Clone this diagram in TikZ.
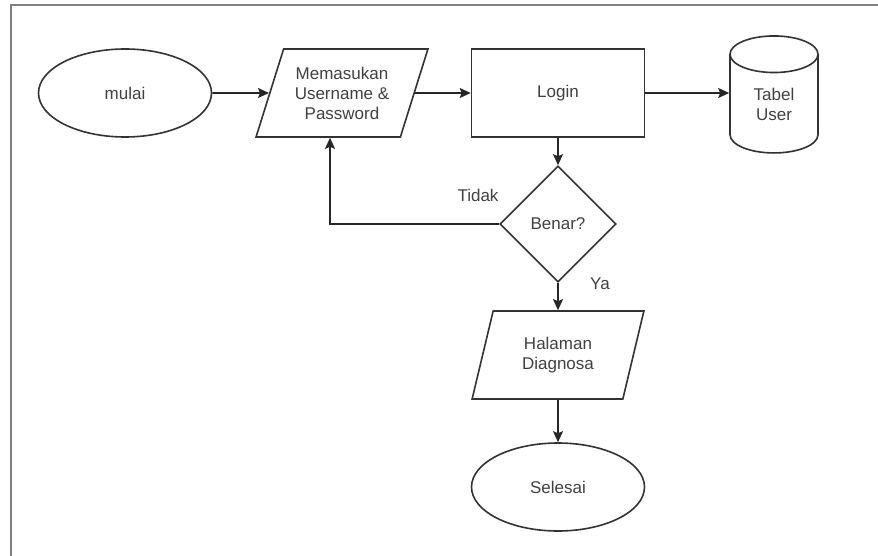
\documentclass[tikz,border=0pt]{standalone}
\usepackage{fontspec}
\setmainfont{Liberation Sans}
\usetikzlibrary{arrows.meta}
\usetikzlibrary{shapes.geometric}
\usetikzlibrary{positioning}

\begin{document}
\begin{tikzpicture}[
    x=1pt, y=-1pt,
    every node/.style = {font=\fontsize{17}{20}\selectfont, text=black!75, align=center},
    base/.style = {draw=black!80, line width=1.6pt, inner sep=0pt},
    terminal/.style = {base, ellipse, minimum width=173pt, minimum height=88pt},
    io/.style = {base, trapezium, trapezium left angle=67, trapezium right angle=113,
                 trapezium stretches=true, minimum width=172pt, minimum height=88pt},
    process/.style = {base, rectangle, minimum width=173pt, minimum height=88pt},
    decision/.style = {base, diamond, minimum width=116pt, minimum height=116pt},
    db/.style = {base, cylinder, shape border rotate=90, aspect=0.9,
                 minimum width=88pt, minimum height=117pt},
    arr/.style = {draw=black!85, line width=1.6pt, -{Stealth[length=11pt,width=10pt,inset=2pt]}}
  ]
  \useasboundingbox (0,0) rectangle (878,556);
  \draw[black!50, line width=2pt] (878,5) -- (11,5) -- (11,556);

  \node[terminal] (mulai) at (125,93) {mulai};
  \node[io] (input) at (342,93) {Memasukan\\Username \&\\Password};
  \node[process] (login) at (558,93) {Login};
  \node[db] (tabel) at (774,104) {Tabel\\User};
  \node[decision] (benar) at (558,224) {Benar?};
  \node[io, trapezium left angle=72, trapezium right angle=108] (halaman) at (558,355) {Halaman\\Diagnosa};
  \node[terminal] (selesai) at (558,487) {Selesai};

  \node (tidak) at (478,195) {Tidak};
  \node (ya) at (600,284) {Ya};

  \draw[arr] (mulai) -- (input);
  \draw[arr] (input) -- (login);
  \draw[arr] (login.east) -- (login.east -| tabel.west);
  \draw[arr] (login) -- (benar);
  \draw[arr] (benar.west) -| ([xshift=-12pt]input.south);
  \draw[arr] (benar) -- (halaman);
  \draw[arr] (halaman) -- (selesai);
\end{tikzpicture}
\end{document}
